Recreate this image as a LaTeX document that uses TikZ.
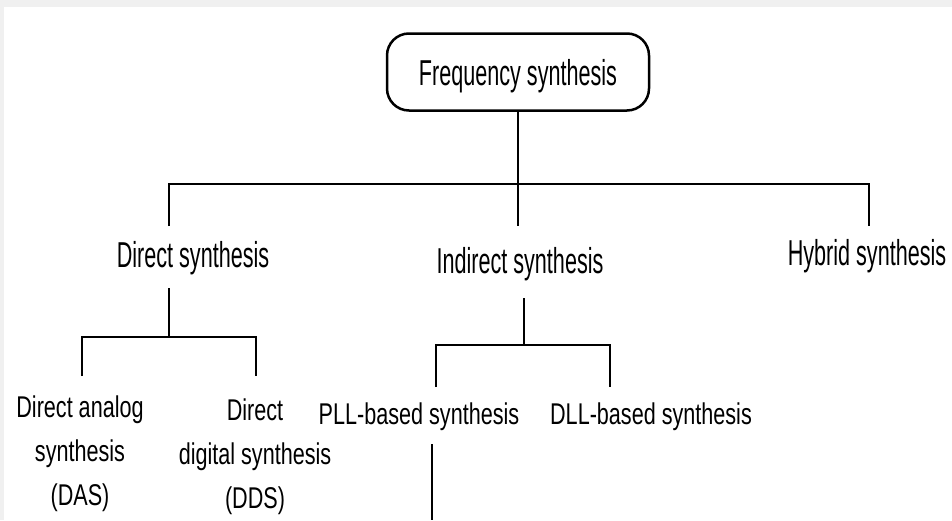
\documentclass[tikz,border=0pt]{standalone}
\usepackage{fontspec}
\usepackage{tikz}
\usetikzlibrary{positioning}
\newfontfamily\hifont[FakeStretch=0.6]{Liberation Sans}
\newfontfamily\lofont[FakeStretch=0.72]{Liberation Sans}

\begin{document}
\begin{tikzpicture}[x=1pt, y=-1pt,
        rootbox/.style={draw, line width=2.5pt, rounded corners=22pt, minimum width=262pt,
                        minimum height=77pt, inner sep=0pt, text depth=0pt,
                        font=\hifont\fontsize{36}{44}\selectfont},
        toplbl/.style={anchor=base, inner sep=0pt, font=\hifont\fontsize{36}{44}\selectfont},
        lowlbl/.style={anchor=base, inner sep=0pt, align=center,
                       font=\lofont\fontsize{30}{44}\selectfont},
        tree/.style={line width=2.4pt}
    ]
    \useasboundingbox (0,0) rectangle (952,520);
    \fill[gray!12] (0,0) rectangle (952,7);
    \fill[gray!12] (0,0) rectangle (4,520);

    \node[rootbox] (freq) at (518,72) {Frequency synthesis};
    \node[toplbl] (direct) at (193,267) {Direct synthesis};
    \node[toplbl] (indirect) at (520,273) {Indirect synthesis};
    \node[toplbl] (hybrid) at (867,265) {Hybrid synthesis};
    \node[lowlbl] (das) at (80,505) {Direct analog\\synthesis\\(DAS)};
    \node[lowlbl] (dds) at (255,508) {Direct\\digital synthesis\\(DDS)};
    \node[lowlbl] (pll) at (419,424) {PLL-based synthesis};
    \node[lowlbl] (dll) at (651,424) {DLL-based synthesis};

    % first level
    \coordinate (bus) at (518,184);
    \coordinate (directup) at (169,226);
    \coordinate (indirectup) at (518,226);
    \coordinate (hybridup) at (869,226);
    \draw[tree] (freq.south) -- (bus);
    \draw[tree] (directup) |- (bus) -| (hybridup);
    \draw[tree] (bus) -- (indirectup);

    % direct synthesis
    \coordinate (directdown) at (169,288);
    \coordinate (dfork) at (169,337);
    \coordinate (dasup) at (82,376);
    \coordinate (ddsup) at (256,376);
    \draw[tree] (directdown) -- (dfork);
    \draw[tree] (dasup) |- (dfork) -| (ddsup);

    % indirect synthesis
    \coordinate (indirectdown) at (524,298);
    \coordinate (ifork) at (524,345);
    \coordinate (pllup) at (436,387);
    \coordinate (dllup) at (610,387);
    \draw[tree] (indirectdown) -- (ifork);
    \draw[tree] (pllup) |- (ifork) -| (dllup);

    % PLL
    \coordinate (plldown) at (432,444);
    \coordinate (pllend) at (432,520);
    \draw[tree] (plldown) -- (pllend);
\end{tikzpicture}
\end{document}
